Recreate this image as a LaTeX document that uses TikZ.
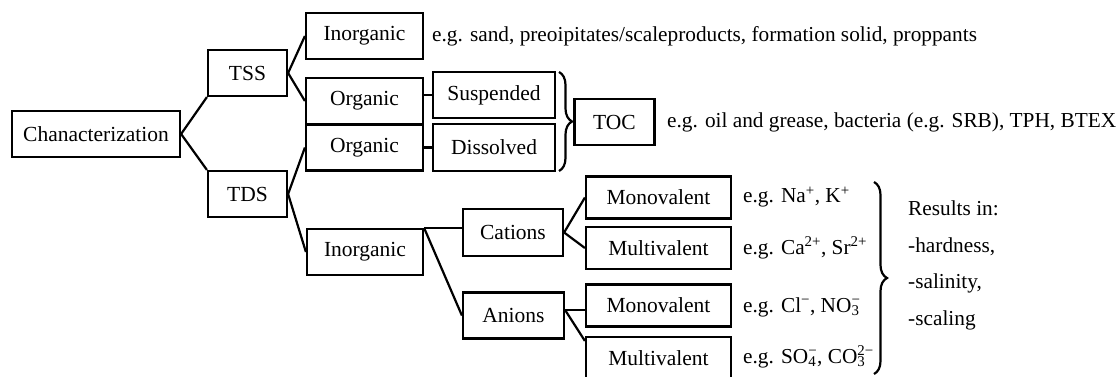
\documentclass[tikz,border=0pt]{standalone}
\usepackage{fontspec}
\setmainfont{Liberation Serif}
\usetikzlibrary{decorations.pathreplacing}
\newcommand{\ionsc}[2]{\makebox[0pt][l]{\textsubscript{#1}}\textsuperscript{#2}}
\newcommand{\mns}{\char"2212}
\begin{document}
\begin{tikzpicture}[x=1pt,y=-1pt,
  box/.style={draw, line width=2.2pt, inner sep=0pt, minimum height=46pt, font=\fontsize{21.5}{24}\selectfont},
  sbox/.style={box, minimum height=42pt},
  txt/.style={anchor=west, inner sep=0pt, font=\fontsize{21.3}{24}\selectfont},
  link/.style={line width=2.2pt},
  brc/.style={line width=2.2pt, decorate, decoration={brace, amplitude=13pt, aspect=0.5}}]
\useasboundingbox (0,0) rectangle (1118,376);
% boxes
\node[box, minimum width=168pt] (char) at (96,134) {Chanacterization};
\node[box, minimum width=79pt] (tss) at (247.5,73) {TSS};
\node[box, minimum width=79pt] (tds) at (247.5,194) {TDS};
\node[box, minimum width=117pt] (inorg1) at (364.5,36) {Inorganic};
\node[box, minimum width=117pt] (org1) at (364.5,101) {Organic};
\node[box, minimum width=117pt] (org2) at (364.5,147.5) {Organic};
\node[box, minimum width=122pt] (susp) at (494,95) {Suspended};
\node[box, minimum width=122pt, minimum height=47pt] (diss) at (494,147.5) {Dissolved};
\node[box, minimum width=80pt] (toc) at (614.5,122) {TOC};
\node[box, minimum width=116pt] (inorg2) at (365,252) {Inorganic};
\node[box, minimum width=100pt, minimum height=47pt] (cat) at (513,232.5) {Cations};
\node[box, minimum width=101pt] (ani) at (513.5,315.5) {Anions};
\node[sbox, minimum width=145pt] (mono1) at (658.5,197.5) {Monovalent};
\node[sbox, minimum width=145pt] (mult1) at (658.5,248) {Multivalent};
\node[sbox, minimum width=145pt] (mono2) at (658.5,305.5) {Monovalent};
\node[sbox, minimum width=145pt] (mult2) at (658.5,358) {Multivalent};
% connectors
\draw[link] (char.east) -- (tss.south west);
\draw[link] (char.east) -- (tds.north west);
\draw[link] (tss.east) -- (inorg1.west);
\draw[link] (tss.east) -- (org1.west);
\draw[link] (tds.east) -- (org2.west);
\draw[link] (tds.east) -- (inorg2.west);
\draw[link] (org1.east |- susp.west) -- (susp.west);
\draw[link] (org2.east |- diss.west) -- (diss.west);
\draw[link] (inorg2.north east) -- (inorg2.north east -| cat.west);
\draw[link] (inorg2.north east) -- (ani.west);
\draw[link] (cat.east) -- (mono1.west);
\draw[link] (cat.east) -- (mult1.west);
\coordinate (aR) at ([yshift=5.5pt]ani.east);
\draw[link] (aR) -- (aR -| mono2.west);
\draw[link] (aR) -- ([yshift=-5pt]mult2.north west);
% braces
\coordinate (b1t) at (559,72);
\coordinate (b1b) at (559,171);
\draw[brc] (b1t) -- (b1b);
\coordinate (b2t) at (874,182);
\coordinate (b2b) at (874,374);
\draw[brc] (b2t) -- (b2b);
% texts
\node[txt] (t1) at (432,36) {e.g. sand, preoipitates/scaleproducts, formation solid, proppants};
\node[txt] (t2) at (667,122) {e.g. oil and grease, bacteria (e.g. SRB), TPH, BTEX};
\node[txt] (e1) at (743,197) {e.g. Na\textsuperscript{+}, K\textsuperscript{+}};
\node[txt] (e2) at (743,248) {e.g. Ca\textsuperscript{2+}, Sr\textsuperscript{2+}};
\node[txt] (e3) at (743,307) {e.g. Cl\textsuperscript{\mns}, NO\ionsc{3}{\mns}};
\node[txt] (e4) at (743,357) {e.g. SO\ionsc{4}{\mns}, CO\ionsc{3}{2\mns}};
\node[txt] (r1) at (908,208) {Results in:};
\node[txt] (r2) at (908,247) {-hardness,};
\node[txt] (r3) at (908,283) {-salinity,};
\node[txt] (r4) at (908,320) {-scaling};
\end{tikzpicture}
\end{document}
